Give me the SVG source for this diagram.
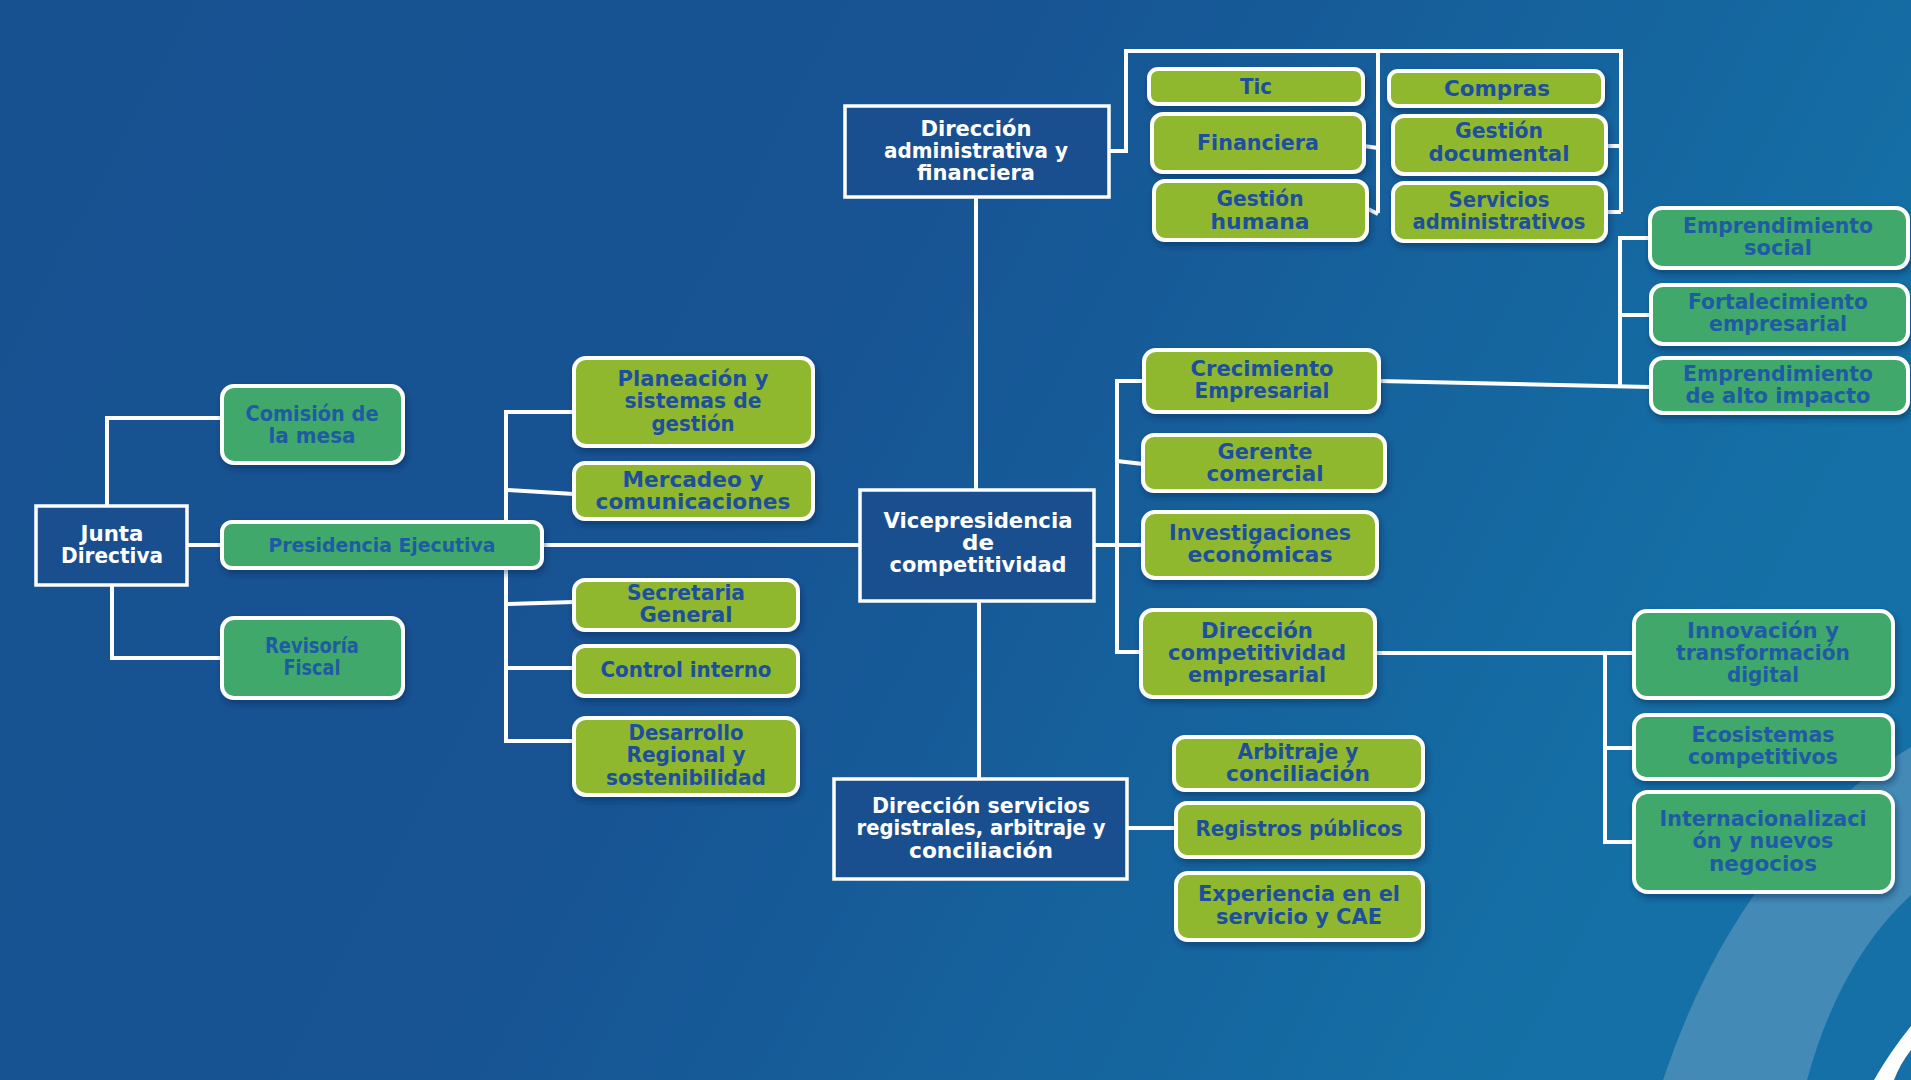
<svg xmlns="http://www.w3.org/2000/svg" width="1911" height="1080" viewBox="0 0 1911 1080">
<defs>
<linearGradient id="bg" x1="0" y1="0" x2="1" y2="0.3">
<stop offset="0" stop-color="#175190"/>
<stop offset="0.5" stop-color="#175494"/>
<stop offset="1" stop-color="#1470a6"/>
</linearGradient>
<filter id="sh" x="-10%" y="-20%" width="120%" height="150%">
<feDropShadow dx="2" dy="4" stdDeviation="3" flood-color="#0a2550" flood-opacity="0.45"/>
</filter>
<style>
.dark{fill:#1a4f8f;stroke:#fff;stroke-width:3.5}
.lime{fill:#8fb82f;stroke:#fff;stroke-width:4;filter:url(#sh)}
.green{fill:#41a86b;stroke:#fff;stroke-width:4;filter:url(#sh)}
text{font-family:"DejaVu Sans","Liberation Sans",Arial,sans-serif;font-weight:bold;text-anchor:middle;dominant-baseline:central;font-size:22px}
.tw{fill:#ffffff}
.tb{fill:#1d4f9c}
.tg{fill:#1f5ba4}
.con{fill:none;stroke:#fff;stroke-width:4}
</style>
</defs>
<rect x="0" y="0" width="1911" height="1080" fill="url(#bg)"/>
<path d="M1663,1080 Q1740,850 1911,747 L1911,895 Q1840,960 1807,1080 Z" fill="#4b8fb9" opacity="0.85"/>
<path d="M1874,1080 Q1890,1052 1911,1026 L1911,1050 Q1900,1064 1894,1080 Z" fill="#ffffff"/>

<g id="connectors" class="con">
<path d="M107,506 V418 H222"/>
<path d="M112,585 V658 H222"/>
<path d="M188,545 H222"/>
<path d="M542,545 H860"/>
<path d="M506,522 V412 H574"/>
<path d="M506,568 V741 H574"/>
<path d="M506,490 L574,494"/>
<path d="M506,604 L574,602"/>
<path d="M506,668 H574"/>
<path d="M976,490 V197"/>
<path d="M979,601 V780"/>
<path d="M1109,151 H1126 V51 H1621 V212"/>
<path d="M1378,51 V213"/>
<path d="M1364,146 L1378,148"/>
<path d="M1368,209 L1378,214"/>
<path d="M1606,146 H1621"/>
<path d="M1606,212 H1621"/>
<path d="M1094,545 H1143"/>
<path d="M1143,381 H1117 V652 H1141"/>
<path d="M1117,461 L1143,464"/>
<path d="M1379,381 L1650,387"/>
<path d="M1650,238 H1620 V385"/>
<path d="M1620,315 H1650"/>
<path d="M1375,653 H1633"/>
<path d="M1605,653 V842 H1633"/>
<path d="M1605,748 H1633"/>
<path d="M1128,828 H1176"/>
</g>

<g id="junta"><rect class="dark" x="36" y="506" width="151" height="79"/><text class="tw" x="112" y="533" textLength="63" lengthAdjust="spacingAndGlyphs">Junta</text><text class="tw" x="112" y="555" textLength="102" lengthAdjust="spacingAndGlyphs">Directiva</text></g>
<g id="comision"><rect class="green" x="222" y="386" width="181" height="77" rx="12"/><text class="tg" x="312" y="413" textLength="133" lengthAdjust="spacingAndGlyphs">Comisión de</text><text class="tg" x="312" y="435" textLength="87" lengthAdjust="spacingAndGlyphs">la mesa</text></g>
<g id="presidencia"><rect class="green" x="222" y="522" width="320" height="46" rx="10"/><text class="tg" x="382" y="545" style="font-size:20px" textLength="227" lengthAdjust="spacingAndGlyphs">Presidencia Ejecutiva</text></g>
<g id="revisoria"><rect class="green" x="222" y="618" width="181" height="80" rx="12"/><text class="tg" x="312" y="645" textLength="94" lengthAdjust="spacingAndGlyphs">Revisoría</text><text class="tg" x="312" y="667" textLength="57" lengthAdjust="spacingAndGlyphs">Fiscal</text></g>

<g id="planeacion"><rect class="lime" x="574" y="358" width="239" height="88" rx="12"/><text class="tb" x="693" y="378" textLength="151" lengthAdjust="spacingAndGlyphs">Planeación y</text><text class="tb" x="693" y="400" textLength="137" lengthAdjust="spacingAndGlyphs">sistemas de</text><text class="tb" x="693" y="423" textLength="83" lengthAdjust="spacingAndGlyphs">gestión</text></g>
<g id="mercadeo"><rect class="lime" x="574" y="463" width="239" height="56" rx="11"/><text class="tb" x="693" y="479" textLength="141" lengthAdjust="spacingAndGlyphs">Mercadeo y</text><text class="tb" x="693" y="501" textLength="195" lengthAdjust="spacingAndGlyphs">comunicaciones</text></g>
<g id="secretaria"><rect class="lime" x="574" y="580" width="224" height="50" rx="11"/><text class="tb" x="686" y="592" textLength="118" lengthAdjust="spacingAndGlyphs">Secretaria</text><text class="tb" x="686" y="614" textLength="93" lengthAdjust="spacingAndGlyphs">General</text></g>
<g id="control"><rect class="lime" x="574" y="646" width="224" height="50" rx="11"/><text class="tb" x="686" y="669" textLength="171" lengthAdjust="spacingAndGlyphs">Control interno</text></g>
<g id="desarrollo"><rect class="lime" x="574" y="718" width="224" height="77" rx="12"/><text class="tb" x="686" y="732" textLength="115" lengthAdjust="spacingAndGlyphs">Desarrollo</text><text class="tb" x="686" y="754" textLength="119" lengthAdjust="spacingAndGlyphs">Regional y</text><text class="tb" x="686" y="777" textLength="160" lengthAdjust="spacingAndGlyphs">sostenibilidad</text></g>

<g id="vicepresidencia"><rect class="dark" x="860" y="490" width="234" height="111"/><text class="tw" x="978" y="520" textLength="189" lengthAdjust="spacingAndGlyphs">Vicepresidencia</text><text class="tw" x="978" y="542" textLength="32" lengthAdjust="spacingAndGlyphs">de</text><text class="tw" x="978" y="564" textLength="177" lengthAdjust="spacingAndGlyphs">competitividad</text></g>
<g id="dir-admin"><rect class="dark" x="845" y="106" width="264" height="91"/><text class="tw" x="976" y="128" textLength="111" lengthAdjust="spacingAndGlyphs">Dirección</text><text class="tw" x="976" y="150" textLength="184" lengthAdjust="spacingAndGlyphs">administrativa y</text><text class="tw" x="976" y="172" textLength="118" lengthAdjust="spacingAndGlyphs">financiera</text></g>
<g id="dir-servicios"><rect class="dark" x="834" y="779" width="293" height="100"/><text class="tw" x="981" y="805" textLength="218" lengthAdjust="spacingAndGlyphs">Dirección servicios</text><text class="tw" x="981" y="827" textLength="249" lengthAdjust="spacingAndGlyphs">registrales, arbitraje y</text><text class="tw" x="981" y="850" textLength="144" lengthAdjust="spacingAndGlyphs">conciliación</text></g>

<g id="tic"><rect class="lime" x="1149" y="69" width="214" height="35" rx="9"/><text class="tb" x="1256" y="86" textLength="32" lengthAdjust="spacingAndGlyphs">Tic</text></g>
<g id="financiera"><rect class="lime" x="1152" y="114" width="212" height="58" rx="11"/><text class="tb" x="1258" y="142" textLength="122" lengthAdjust="spacingAndGlyphs">Financiera</text></g>
<g id="gestion-humana"><rect class="lime" x="1154" y="181" width="213" height="59" rx="11"/><text class="tb" x="1260" y="198" textLength="87" lengthAdjust="spacingAndGlyphs">Gestión</text><text class="tb" x="1260" y="221" textLength="99" lengthAdjust="spacingAndGlyphs">humana</text></g>
<g id="compras"><rect class="lime" x="1389" y="71" width="214" height="35" rx="9"/><text class="tb" x="1497" y="88" textLength="106" lengthAdjust="spacingAndGlyphs">Compras</text></g>
<g id="gestion-documental"><rect class="lime" x="1393" y="116" width="213" height="58" rx="11"/><text class="tb" x="1499" y="130" textLength="88" lengthAdjust="spacingAndGlyphs">Gestión</text><text class="tb" x="1499" y="153" textLength="141" lengthAdjust="spacingAndGlyphs">documental</text></g>
<g id="servicios-adm"><rect class="lime" x="1393" y="183" width="213" height="58" rx="11"/><text class="tb" x="1499" y="199" textLength="101" lengthAdjust="spacingAndGlyphs">Servicios</text><text class="tb" x="1499" y="221" textLength="173" lengthAdjust="spacingAndGlyphs">administrativos</text></g>

<g id="emp-social"><rect class="green" x="1650" y="208" width="258" height="60" rx="12"/><text class="tg" x="1778" y="225" textLength="190" lengthAdjust="spacingAndGlyphs">Emprendimiento</text><text class="tg" x="1778" y="247" textLength="68" lengthAdjust="spacingAndGlyphs">social</text></g>
<g id="fortalecimiento"><rect class="green" x="1651" y="285" width="257" height="59" rx="12"/><text class="tg" x="1778" y="301" textLength="180" lengthAdjust="spacingAndGlyphs">Fortalecimiento</text><text class="tg" x="1778" y="323" textLength="138" lengthAdjust="spacingAndGlyphs">empresarial</text></g>
<g id="emp-alto"><rect class="green" x="1651" y="358" width="257" height="55" rx="12"/><text class="tg" x="1778" y="373" textLength="190" lengthAdjust="spacingAndGlyphs">Emprendimiento</text><text class="tg" x="1778" y="395" textLength="185" lengthAdjust="spacingAndGlyphs">de alto impacto</text></g>

<g id="crecimiento"><rect class="lime" x="1144" y="350" width="235" height="62" rx="12"/><text class="tb" x="1262" y="368" textLength="143" lengthAdjust="spacingAndGlyphs">Crecimiento</text><text class="tb" x="1262" y="390" textLength="135" lengthAdjust="spacingAndGlyphs">Empresarial</text></g>
<g id="gerente"><rect class="lime" x="1143" y="435" width="242" height="56" rx="11"/><text class="tb" x="1265" y="451" textLength="95" lengthAdjust="spacingAndGlyphs">Gerente</text><text class="tb" x="1265" y="473" textLength="117" lengthAdjust="spacingAndGlyphs">comercial</text></g>
<g id="investigaciones"><rect class="lime" x="1143" y="512" width="234" height="66" rx="12"/><text class="tb" x="1260" y="532" textLength="182" lengthAdjust="spacingAndGlyphs">Investigaciones</text><text class="tb" x="1260" y="554" textLength="145" lengthAdjust="spacingAndGlyphs">económicas</text></g>
<g id="dir-competitividad"><rect class="lime" x="1141" y="610" width="234" height="87" rx="12"/><text class="tb" x="1257" y="630" textLength="112" lengthAdjust="spacingAndGlyphs">Dirección</text><text class="tb" x="1257" y="652" textLength="178" lengthAdjust="spacingAndGlyphs">competitividad</text><text class="tb" x="1257" y="674" textLength="138" lengthAdjust="spacingAndGlyphs">empresarial</text></g>

<g id="innovacion"><rect class="green" x="1634" y="611" width="259" height="87" rx="13"/><text class="tg" x="1763" y="630" textLength="152" lengthAdjust="spacingAndGlyphs">Innovación y</text><text class="tg" x="1763" y="652" textLength="174" lengthAdjust="spacingAndGlyphs">transformación</text><text class="tg" x="1763" y="674" textLength="72" lengthAdjust="spacingAndGlyphs">digital</text></g>
<g id="ecosistemas"><rect class="green" x="1634" y="715" width="259" height="64" rx="12"/><text class="tg" x="1763" y="734" textLength="143" lengthAdjust="spacingAndGlyphs">Ecosistemas</text><text class="tg" x="1763" y="756" textLength="150" lengthAdjust="spacingAndGlyphs">competitivos</text></g>
<g id="internacionalizacion"><rect class="green" x="1634" y="792" width="259" height="100" rx="14"/><text class="tg" x="1763" y="818" textLength="207" lengthAdjust="spacingAndGlyphs">Internacionalizaci</text><text class="tg" x="1763" y="840" textLength="141" lengthAdjust="spacingAndGlyphs">ón y nuevos</text><text class="tg" x="1763" y="863" textLength="108" lengthAdjust="spacingAndGlyphs">negocios</text></g>

<g id="arbitraje"><rect class="lime" x="1174" y="737" width="249" height="53" rx="11"/><text class="tb" x="1298" y="751" textLength="121" lengthAdjust="spacingAndGlyphs">Arbitraje y</text><text class="tb" x="1298" y="773" textLength="144" lengthAdjust="spacingAndGlyphs">conciliación</text></g>
<g id="registros"><rect class="lime" x="1176" y="803" width="247" height="54" rx="11"/><text class="tb" x="1299" y="828" textLength="207" lengthAdjust="spacingAndGlyphs">Registros públicos</text></g>
<g id="experiencia"><rect class="lime" x="1176" y="873" width="247" height="67" rx="12"/><text class="tb" x="1299" y="893" textLength="202" lengthAdjust="spacingAndGlyphs">Experiencia en el</text><text class="tb" x="1299" y="916" textLength="166" lengthAdjust="spacingAndGlyphs">servicio y CAE</text></g>
</svg>
